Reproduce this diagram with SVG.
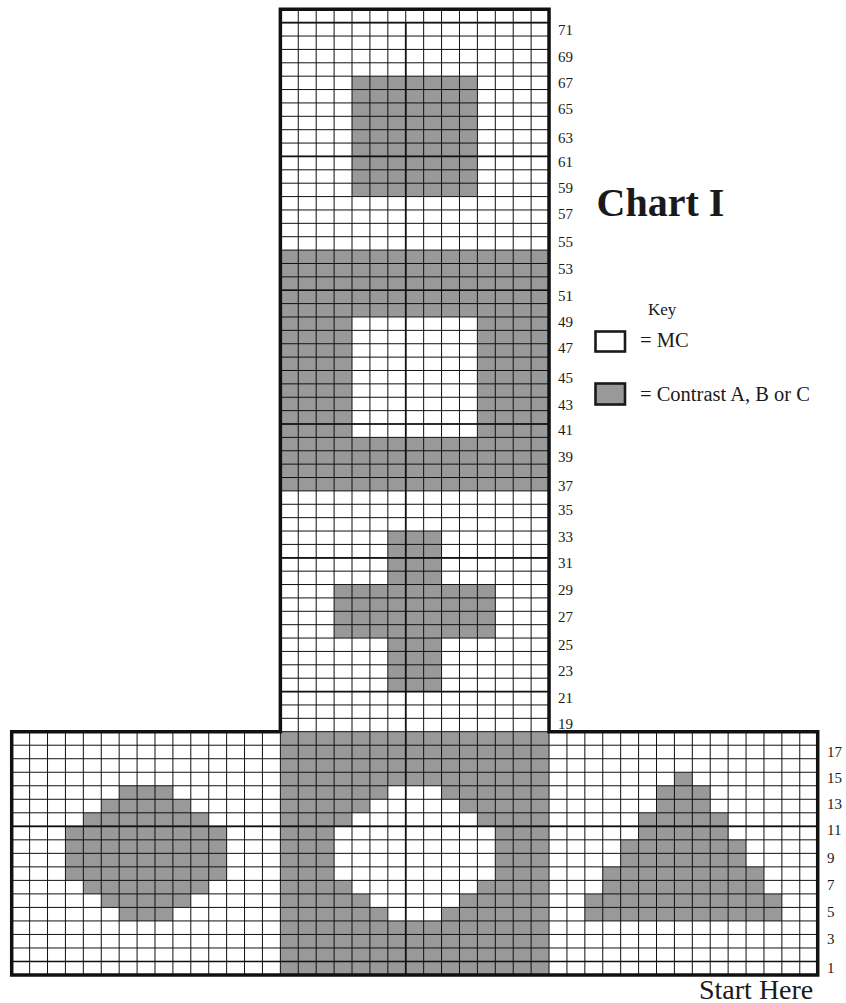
<svg xmlns="http://www.w3.org/2000/svg" xmlns:xlink="http://www.w3.org/1999/xlink" width="846" height="1003" viewBox="0 0 846 1003">
<style>
.g{fill:#999999}
.w{fill:#ffffff}
.grid{fill:none;stroke:#111;stroke-width:1}
.thick{fill:none;stroke:#111;stroke-width:1.7}
.border{fill:none;stroke:#111;stroke-width:3.5;stroke-linejoin:miter}
.num{font-family:"Liberation Serif","Times New Roman",serif;font-size:15px;fill:#1a1a1a}
.rnum{font-family:"Liberation Serif","Times New Roman",serif;font-size:15px;fill:#1a1a1a}
.key{font-family:"Liberation Serif","Times New Roman",serif;font-size:20.5px;fill:#1a1a1a}
</style>
<defs>
<polygon id="octa" points="119.17,785.76 172.9,785.76 172.9,799.28 190.81,799.28 190.81,812.8 208.72,812.8 208.72,826.31 226.63,826.31 226.63,880.38 208.72,880.38 208.72,893.9 190.81,893.9 190.81,907.42 172.9,907.42 172.9,920.93 119.17,920.93 119.17,907.42 101.26,907.42 101.26,893.9 83.34,893.9 83.34,880.38 65.43,880.38 65.43,826.31 83.34,826.31 83.34,812.8 101.26,812.8 101.26,799.28 119.17,799.28"/>
</defs>
<rect width="846" height="1003" fill="#ffffff"/>
<g id="chart">
<g id="fills">
<rect class="g" x="352.01" y="76.18" width="125.38" height="120.4"/>
<rect class="g" x="280.37" y="250.09" width="268.66" height="240.81"/>
<rect class="w" x="352.01" y="316.98" width="125.38" height="120.4"/>
<rect class="g" x="387.83" y="531.03" width="53.73" height="160.54"/>
<rect class="g" x="334.1" y="584.54" width="161.2" height="53.51"/>
<rect class="g" x="280.37" y="731.7" width="268.66" height="243.3"/>
<use xlink:href="#octa" class="g"/>
<use xlink:href="#octa" x="268.67" class="w"/>
<polygon class="g" points="674.41,772.25 692.32,772.25 692.32,785.76 710.23,785.76 710.23,812.8 728.14,812.8 728.14,839.83 746.05,839.83 746.05,866.86 763.96,866.86 763.96,893.9 781.87,893.9 781.87,920.93 584.85,920.93 584.85,893.9 602.76,893.9 602.76,866.86 620.67,866.86 620.67,839.83 638.59,839.83 638.59,812.8 656.5,812.8 656.5,785.76 674.41,785.76"/>
</g>
<g id="gridlines">
<path class="grid" d="M29.61 731.7V975M47.52 731.7V975M65.43 731.7V975M83.34 731.7V975M101.26 731.7V975M119.17 731.7V975M137.08 731.7V975M154.99 731.7V975M172.9 731.7V975M190.81 731.7V975M208.72 731.7V975M226.63 731.7V975M244.54 731.7V975M262.45 731.7V975M280.37 731.7V975M549.03 731.7V975M566.94 731.7V975M584.85 731.7V975M602.76 731.7V975M620.67 731.7V975M638.59 731.7V975M656.5 731.7V975M674.41 731.7V975M692.32 731.7V975M710.23 731.7V975M728.14 731.7V975M746.05 731.7V975M763.96 731.7V975M781.87 731.7V975M799.78 731.7V975"/>
<path class="grid" d="M298.28 9.29V975M316.19 9.29V975M334.1 9.29V975M352.01 9.29V975M369.92 9.29V975M387.83 9.29V975M405.74 9.29V975M423.65 9.29V975M441.56 9.29V975M459.48 9.29V975M477.39 9.29V975M495.3 9.29V975M513.21 9.29V975M531.12 9.29V975"/>
<path class="grid" d="M11.7 961.48H817.7M11.7 947.97H817.7M11.7 934.45H817.7M11.7 920.93H817.7M11.7 907.42H817.7M11.7 893.9H817.7M11.7 880.38H817.7M11.7 866.86H817.7M11.7 853.35H817.7M11.7 839.83H817.7M11.7 826.31H817.7M11.7 812.8H817.7M11.7 799.28H817.7M11.7 785.76H817.7M11.7 772.25H817.7M11.7 758.73H817.7M11.7 745.21H817.7M280.37 731.7H549.03"/>
<path class="grid" d="M280.37 718.32H549.03M280.37 704.94H549.03M280.37 691.57H549.03M280.37 678.19H549.03M280.37 664.81H549.03M280.37 651.43H549.03M280.37 638.05H549.03M280.37 624.68H549.03M280.37 611.3H549.03M280.37 597.92H549.03M280.37 584.54H549.03M280.37 571.16H549.03M280.37 557.79H549.03M280.37 544.41H549.03M280.37 531.03H549.03M280.37 517.65H549.03M280.37 504.27H549.03M280.37 490.9H549.03M280.37 477.52H549.03M280.37 464.14H549.03M280.37 450.76H549.03M280.37 437.38H549.03M280.37 424.01H549.03M280.37 410.63H549.03M280.37 397.25H549.03M280.37 383.87H549.03M280.37 370.49H549.03M280.37 357.12H549.03M280.37 343.74H549.03M280.37 330.36H549.03M280.37 316.98H549.03M280.37 303.6H549.03M280.37 290.23H549.03M280.37 276.85H549.03M280.37 263.47H549.03M280.37 250.09H549.03M280.37 236.71H549.03M280.37 223.34H549.03M280.37 209.96H549.03M280.37 196.58H549.03M280.37 183.2H549.03M280.37 169.82H549.03M280.37 156.45H549.03M280.37 143.07H549.03M280.37 129.69H549.03M280.37 116.31H549.03M280.37 102.93H549.03M280.37 89.56H549.03M280.37 76.18H549.03M280.37 62.8H549.03M280.37 49.42H549.03M280.37 36.04H549.03M280.37 22.67H549.03"/>
<path class="thick" d="M11.7 961.48H817.7M11.7 826.31H817.7M280.37 691.57H549.03M280.37 557.79H549.03M280.37 424.01H549.03M280.37 290.23H549.03M280.37 156.45H549.03M280.37 22.67H549.03M405.74 22.67V975"/>
</g>
<path id="outline" class="border" d="M11.7 731.7H280.37V9.29H549.03V731.7H817.7V975H11.7Z"/>
</g>
<g id="row-numbers">
<text class="num" x="558" y="34.5">71</text>
<text class="num" x="558" y="61.5">69</text>
<text class="num" x="558" y="87.5">67</text>
<text class="num" x="558" y="113.5">65</text>
<text class="num" x="558" y="142.5">63</text>
<text class="num" x="558" y="166.5">61</text>
<text class="num" x="558" y="192.5">59</text>
<text class="num" x="558" y="218.5">57</text>
<text class="num" x="558" y="246.5">55</text>
<text class="num" x="558" y="273.5">53</text>
<text class="num" x="558" y="301">51</text>
<text class="num" x="558" y="327">49</text>
<text class="num" x="558" y="353">47</text>
<text class="num" x="558" y="382.5">45</text>
<text class="num" x="558" y="409.5">43</text>
<text class="num" x="558" y="435">41</text>
<text class="num" x="558" y="462">39</text>
<text class="num" x="558" y="491">37</text>
<text class="num" x="558" y="514.5">35</text>
<text class="num" x="558" y="541.5">33</text>
<text class="num" x="558" y="567.5">31</text>
<text class="num" x="558" y="594.5">29</text>
<text class="num" x="558" y="621.5">27</text>
<text class="num" x="558" y="649.5">25</text>
<text class="num" x="558" y="675.5">23</text>
<text class="num" x="558" y="703">21</text>
<text class="num" x="558" y="728.5">19</text>
<text class="rnum" x="827" y="757">17</text>
<text class="rnum" x="827" y="783">15</text>
<text class="rnum" x="827" y="808.5">13</text>
<text class="rnum" x="827" y="834.5">11</text>
<text class="rnum" x="827" y="862.5">9</text>
<text class="rnum" x="827" y="889.5">7</text>
<text class="rnum" x="827" y="916.5">5</text>
<text class="rnum" x="827" y="943.5">3</text>
<text class="rnum" x="827" y="972.5">1</text>
</g>
<g id="title">
<text x="596.5" y="216" font-family="'Liberation Serif','Times New Roman',serif" font-size="40" font-weight="bold" fill="#1a1a1a">Chart I</text>
</g>
<g id="key">
<text x="648" y="315" font-family="'Liberation Serif','Times New Roman',serif" font-size="17" fill="#1a1a1a">Key</text>
<rect x="595.5" y="331.5" width="29.5" height="20" fill="#ffffff" stroke="#1a1a1a" stroke-width="2.6"/>
<text class="key" x="640" y="347">= MC</text>
<rect x="595.5" y="383.5" width="29.5" height="21" fill="#999999" stroke="#1a1a1a" stroke-width="2.6"/>
<text class="key" x="640" y="401">= Contrast A, B or C</text>
</g>
<g id="start">
<text x="699" y="999" font-family="'Liberation Serif','Times New Roman',serif" font-size="28" fill="#1a1a1a">Start Here</text>
</g>
</svg>
